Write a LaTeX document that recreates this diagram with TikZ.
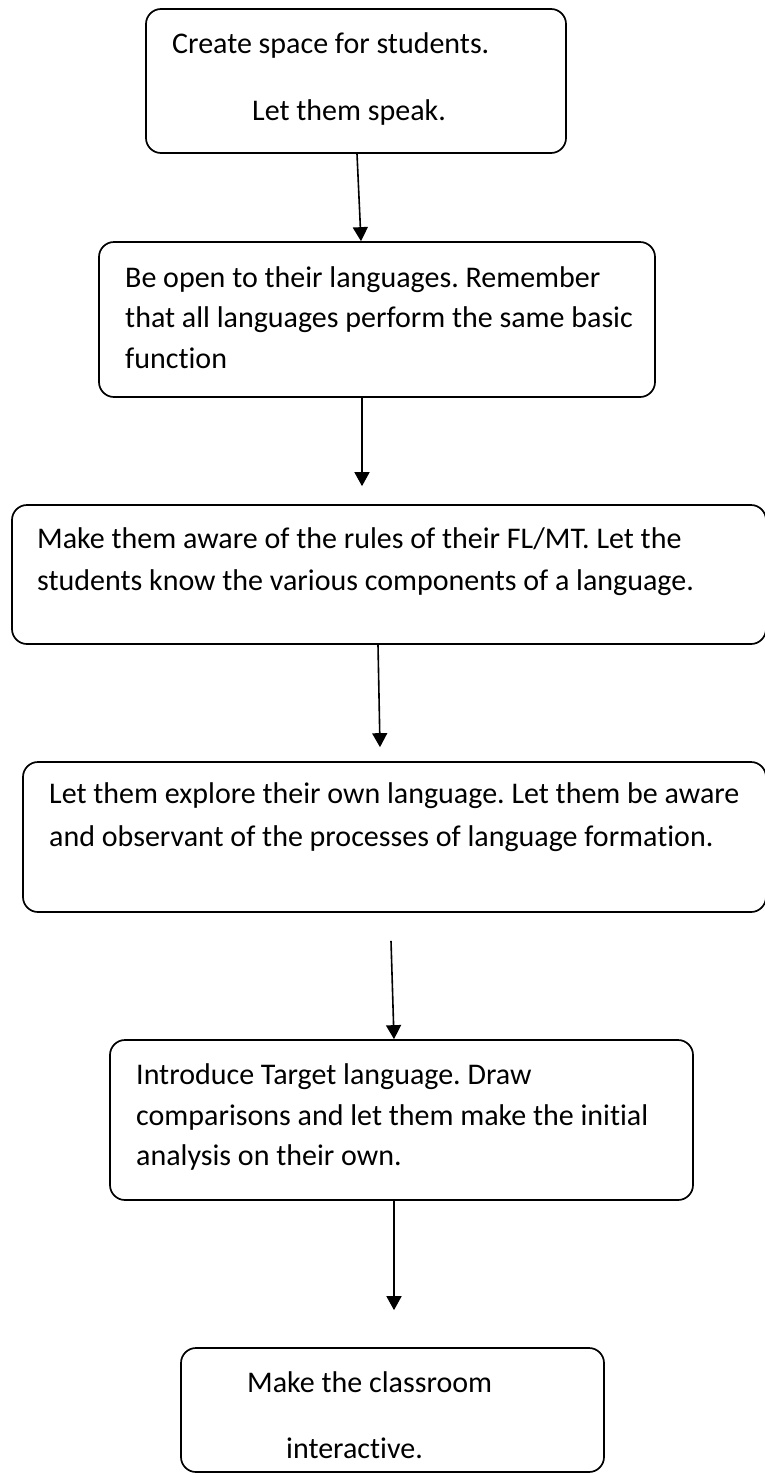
\documentclass[tikz,border=0pt]{standalone}
\usepackage{fontspec}
\setmainfont[RawFeature={-liga;-clig;-calt;-dlig;-rlig}]{Carlito}
\frenchspacing
\usetikzlibrary{arrows.meta}
\begin{document}
\begin{tikzpicture}[x=1pt,y=-1pt,
  box/.style={draw=black,line width=1.7pt,rounded corners=15pt,inner sep=0pt},
  txt/.style={anchor=base west,inner sep=0pt,font=\fontsize{30}{36}\selectfont},
  arr/.style={draw=black,line width=1.6pt,-{Triangle[length=14pt,width=15pt]}}]
\useasboundingbox[fill=white] (0,0) rectangle (764,1473);
% boxes
\node[box,minimum width=420pt,minimum height=144pt] (b1) at (356,81) {};
\node[box,minimum width=556pt,minimum height=155pt] (b2) at (377,319.5) {};
\node[box,minimum width=754pt,minimum height=139pt] (b3) at (389,574.5) {};
\node[box,minimum width=743pt,minimum height=150pt] (b4) at (394.5,837) {};
\node[box,minimum width=583pt,minimum height=160pt] (b5) at (401.5,1120) {};
\node[box,minimum width=423pt,minimum height=124pt] (b6) at (392.5,1410) {};
% texts
\node[txt] (t11) at (172,53) {Create space for students.};
\node[txt] (t12) at (252,120) {Let them speak.};
\node[txt] (t21) at (125,287) {Be open to their languages. Remember};
\node[txt] (t22) at (125,327) {that all languages perform the same basic};
\node[txt] (t23) at (125,368) {function};
\node[txt] (t31) at (37,548) {Make them aware of the rules of their FL/MT. Let the};
\node[txt] (t32) at (37,590) {students know the various components of a language.};
\node[txt] (t41) at (49,803) {Let them explore their own language. Let them be aware};
\node[txt] (t42) at (49,846) {and observant of the processes of language formation.};
\node[txt] (t51) at (136,1084) {Introduce Target language. Draw};
\node[txt] (t52) at (136,1125) {comparisons and let them make the initial};
\node[txt] (t53) at (136,1165) {analysis on their own.};
\node[txt] (t61) at (247,1392) {Make the classroom};
\node[txt] (t62) at (286,1458) {interactive.};
% connectors
\draw[arr] ([xshift=1pt]b1.south) -- ([xshift=-16pt]b2.north);
\draw[arr] ([xshift=-15pt]b2.south) -- ([xshift=-27pt,yshift=18pt]b3.north);
\draw[arr] ([xshift=-11pt]b3.south) -- ([xshift=-14.5pt,yshift=14pt]b4.north);
\draw[arr] ([xshift=-3.5pt,yshift=-28pt]b4.south) -- ([xshift=-7.5pt]b5.north);
\draw[arr] ([xshift=-7.5pt]b5.south) -- ([xshift=1.5pt,yshift=37pt]b6.north);
\end{tikzpicture}
\end{document}
